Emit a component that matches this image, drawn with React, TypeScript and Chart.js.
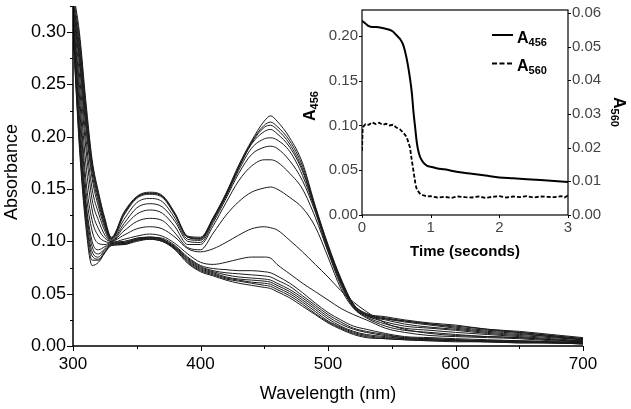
import React, { useEffect, useRef } from "react";
import { Chart, registerables } from "chart.js";
Chart.register(...registerables);

const FONT = "'Liberation Sans', Arial, sans-serif";

// ---------- main spectra ----------
const WAVELENGTHS = [300, 305, 310, 315, 320, 325, 330, 340, 350, 360, 370, 380, 390, 400, 410, 420, 430, 440, 450, 455, 460, 470, 480, 490, 500, 510, 520, 530, 545, 560, 580, 600, 625, 650, 675, 700];

const SPEC_00 = [0.340,0.300,0.235,0.178,0.147,0.122,0.104, 0.128,0.143,0.147,0.144,0.127,0.105,0.104, 0.123,0.146,0.173,0.196,0.215,0.220, 0.215,0.199,0.175,0.134,0.097,0.065,0.040,0.031, 0.028,0.025,0.022,0.020,0.016,0.014,0.011,0.008];
const SPEC_01 = [0.335,0.295,0.230,0.175,0.145,0.120,0.103, 0.127,0.142,0.146,0.143,0.126,0.104,0.103, 0.122,0.145,0.171,0.195,0.211,0.214, 0.210,0.196,0.172,0.133,0.096,0.064,0.040,0.031, 0.027,0.024,0.021,0.019,0.016,0.013,0.010,0.007];
const SPEC_02 = [0.330,0.290,0.225,0.172,0.143,0.119,0.103, 0.126,0.142,0.146,0.143,0.126,0.104,0.103, 0.122,0.145,0.171,0.194,0.209,0.211, 0.207,0.193,0.169,0.132,0.095,0.063,0.039,0.030, 0.026,0.024,0.021,0.018,0.015,0.013,0.010,0.007];
const SPEC_03 = [0.330,0.285,0.220,0.170,0.140,0.117,0.102, 0.125,0.141,0.145,0.142,0.125,0.104,0.102, 0.121,0.144,0.170,0.193,0.205,0.207, 0.203,0.190,0.167,0.131,0.094,0.062,0.039,0.030, 0.026,0.023,0.020,0.017,0.014,0.012,0.009,0.006];
const SPEC_04 = [0.325,0.280,0.215,0.165,0.137,0.115,0.102, 0.121,0.137,0.141,0.138,0.122,0.102,0.101, 0.120,0.143,0.168,0.189,0.198,0.199, 0.197,0.186,0.163,0.130,0.093,0.061,0.038,0.029, 0.025,0.021,0.018,0.016,0.013,0.011,0.009,0.006];
const SPEC_05 = [0.325,0.275,0.210,0.160,0.133,0.113,0.101, 0.117,0.132,0.136,0.133,0.119,0.100,0.099, 0.118,0.141,0.165,0.183,0.190,0.191, 0.189,0.177,0.158,0.128,0.091,0.060,0.037,0.029, 0.023,0.019,0.017,0.015,0.012,0.010,0.008,0.006];
const SPEC_06 = [0.320,0.270,0.200,0.150,0.127,0.110,0.100, 0.114,0.126,0.130,0.127,0.114,0.097,0.097, 0.115,0.137,0.158,0.172,0.178,0.178, 0.176,0.165,0.150,0.123,0.090,0.058,0.037,0.028, 0.021,0.017,0.015,0.013,0.011,0.009,0.007,0.005];
const SPEC_07 = [0.320,0.260,0.190,0.140,0.120,0.106,0.100, 0.110,0.119,0.122,0.120,0.108,0.094,0.092, 0.108,0.125,0.138,0.147,0.151,0.152, 0.150,0.142,0.132,0.114,0.085,0.055,0.036,0.027, 0.019,0.015,0.013,0.011,0.009,0.008,0.006,0.005];
const SPEC_08 = [0.315,0.250,0.175,0.130,0.112,0.103,0.100, 0.106,0.112,0.114,0.112,0.104,0.093,0.090, 0.093,0.099,0.106,0.112,0.114,0.113, 0.111,0.101,0.090,0.078,0.066,0.053,0.042,0.033, 0.022,0.016,0.012,0.010,0.009,0.008,0.006,0.004];
const SPEC_09 = [0.315,0.240,0.160,0.120,0.105,0.100,0.099, 0.102,0.105,0.107,0.105,0.098,0.088,0.080, 0.078,0.080,0.083,0.085,0.085,0.084, 0.078,0.069,0.060,0.052,0.044,0.036,0.030,0.025, 0.017,0.013,0.010,0.009,0.008,0.007,0.005,0.004];
const SPEC_10 = [0.310,0.230,0.150,0.110,0.098,0.097,0.099, 0.100,0.103,0.104,0.103,0.096,0.085,0.077, 0.074,0.073,0.072,0.072,0.071,0.070, 0.067,0.060,0.051,0.041,0.032,0.025,0.019,0.016, 0.012,0.009,0.008,0.007,0.006,0.005,0.004,0.003];
const SPEC_11 = [0.310,0.220,0.140,0.100,0.092,0.095,0.098, 0.099,0.103,0.104,0.102,0.095,0.084,0.076, 0.072,0.070,0.069,0.068,0.067,0.066, 0.063,0.057,0.048,0.039,0.030,0.023,0.017,0.014, 0.011,0.008,0.007,0.006,0.005,0.005,0.004,0.003];
const SPEC_12 = [0.310,0.210,0.135,0.095,0.088,0.093,0.098, 0.099,0.102,0.104,0.102,0.094,0.083,0.075, 0.071,0.068,0.066,0.065,0.064,0.063, 0.060,0.054,0.046,0.037,0.028,0.021,0.016,0.013, 0.010,0.008,0.007,0.006,0.005,0.004,0.004,0.003];
const SPEC_13 = [0.305,0.205,0.130,0.090,0.085,0.092,0.097, 0.098,0.102,0.103,0.101,0.094,0.082,0.074, 0.070,0.066,0.064,0.063,0.062,0.061, 0.058,0.052,0.044,0.035,0.026,0.019,0.014,0.011, 0.009,0.007,0.006,0.005,0.005,0.004,0.003,0.003];
const SPEC_14 = [0.305,0.200,0.125,0.086,0.083,0.090,0.097, 0.098,0.101,0.103,0.101,0.093,0.081,0.073, 0.069,0.065,0.063,0.061,0.060,0.059, 0.056,0.050,0.042,0.033,0.024,0.018,0.013,0.010, 0.008,0.007,0.006,0.005,0.004,0.004,0.003,0.002];
const SPEC_15 = [0.300,0.195,0.120,0.082,0.082,0.090,0.096, 0.097,0.101,0.102,0.100,0.093,0.080,0.072, 0.068,0.064,0.062,0.060,0.058,0.057, 0.054,0.048,0.040,0.031,0.023,0.017,0.012,0.009, 0.007,0.006,0.005,0.005,0.004,0.003,0.003,0.002];
const SPEC_16 = [0.300,0.190,0.115,0.077,0.080,0.089,0.096, 0.097,0.100,0.102,0.100,0.092,0.079,0.071, 0.067,0.063,0.060,0.058,0.056,0.055, 0.052,0.046,0.038,0.030,0.022,0.016,0.011,0.008, 0.007,0.006,0.005,0.004,0.004,0.003,0.003,0.002];

const SPECTRA = [SPEC_00, SPEC_01, SPEC_02, SPEC_03, SPEC_04, SPEC_05, SPEC_06, SPEC_07, SPEC_08, SPEC_09, SPEC_10, SPEC_11, SPEC_12, SPEC_13, SPEC_14, SPEC_15, SPEC_16];

const X_TICKS_MAJOR = 100;
const X_TICKS_MINOR = 50;
const Y_TICKS_MAJOR = 0.05;
const Y_TICKS_MINOR = 0.025;

// ---------- inset kinetics ----------
const TIME_456 = [0, 0.05, 0.1, 0.15, 0.2, 0.3, 0.4, 0.45, 0.5, 0.55, 0.6, 0.65, 0.7, 0.725, 0.75, 0.775, 0.8, 0.825, 0.85, 0.9, 0.95, 1.0, 1.1, 1.2, 1.4, 1.6, 1.8, 2.0, 2.2, 2.4, 2.6, 2.8, 3.0];
const A456 = [0.217, 0.214, 0.211, 0.210, 0.210, 0.209, 0.207, 0.205, 0.201, 0.197, 0.190, 0.175, 0.152, 0.137, 0.115, 0.097, 0.080, 0.070, 0.064, 0.058, 0.055, 0.054, 0.052, 0.051, 0.048, 0.046, 0.044, 0.042, 0.041, 0.040, 0.039, 0.038, 0.037];

const TIME_560 = [0, 0.01, 0.05, 0.1, 0.15, 0.2, 0.25, 0.3, 0.35, 0.4, 0.45, 0.5, 0.55, 0.6, 0.65, 0.7, 0.72, 0.75, 0.78, 0.8, 0.85, 0.9, 0.95, 1.0, 1.1, 1.2, 1.3, 1.4, 1.5, 1.6, 1.7, 1.8, 1.9, 2.0, 2.1, 2.2, 2.3, 2.4, 2.5, 2.6, 2.7, 2.8, 2.9, 2.95, 3.0];
const A560 = [0.019, 0.026, 0.027, 0.0268, 0.0275, 0.027, 0.0274, 0.0268, 0.0271, 0.0266, 0.0268, 0.026, 0.0255, 0.0245, 0.0232, 0.020, 0.017, 0.013, 0.009, 0.0075, 0.0062, 0.0058, 0.0055, 0.0056, 0.0052, 0.0054, 0.0051, 0.0055, 0.0053, 0.0052, 0.0055, 0.0051, 0.0054, 0.0056, 0.0052, 0.0055, 0.0053, 0.0056, 0.0052, 0.0055, 0.0054, 0.0053, 0.0056, 0.0052, 0.0058];

function drawSub(ctx: CanvasRenderingContext2D, x: number, y: number, main: string, sub: string, size: number, subSize: number, align: "left" | "center") {
  ctx.font = `bold ${size}px ${FONT}`;
  const w1 = ctx.measureText(main).width;
  ctx.font = `bold ${subSize}px ${FONT}`;
  const w2 = ctx.measureText(sub).width;
  const x0 = align === "center" ? x - (w1 + w2) / 2 : x;
  ctx.textAlign = "left";
  ctx.textBaseline = "alphabetic";
  ctx.font = `bold ${size}px ${FONT}`;
  ctx.fillText(main, x0, y);
  ctx.font = `bold ${subSize}px ${FONT}`;
  ctx.fillText(sub, x0 + w1, y + 3);
}

const mainAxesPlugin = {
  id: "mainAxes",
  afterDraw(chart: any) {
    const { ctx, chartArea, scales } = chart;
    const { left, right, top, bottom } = chartArea;
    const xs = scales.x, ys = scales.y;
    ctx.save();
    ctx.strokeStyle = "#000";
    ctx.lineWidth = 1.5;
    ctx.beginPath();
    ctx.moveTo(left, top);
    ctx.lineTo(left, bottom);
    ctx.lineTo(right, bottom);
    ctx.stroke();
    ctx.lineWidth = 1;
    for (let v = xs.min; v <= xs.max + 1e-9; v += X_TICKS_MINOR) {
      const px = Math.round(xs.getPixelForValue(v)) + 0.5;
      const major = Math.abs(v / X_TICKS_MAJOR - Math.round(v / X_TICKS_MAJOR)) < 1e-6;
      ctx.beginPath();
      ctx.moveTo(px, bottom);
      ctx.lineTo(px, bottom + (major ? 5 : 3));
      ctx.stroke();
    }
    for (let k = 0; k * Y_TICKS_MINOR <= ys.max + 1e-9; k++) {
      const v = k * Y_TICKS_MINOR;
      const py = Math.round(ys.getPixelForValue(v)) + 0.5;
      const major = k % 2 === 0;
      ctx.beginPath();
      ctx.moveTo(left - (major ? 6 : 3), py);
      ctx.lineTo(left, py);
      ctx.stroke();
    }
    ctx.fillStyle = "#000";
    ctx.font = `18px ${FONT}`;
    ctx.textAlign = "center";
    ctx.textBaseline = "middle";
    ctx.fillText("Wavelength (nm)", (left + right) / 2, 394);
    ctx.save();
    ctx.translate(12, 172);
    ctx.rotate(-Math.PI / 2);
    ctx.fillText("Absorbance", 0, 0);
    ctx.restore();
    ctx.restore();
  },
};

const insetPlugin = {
  id: "insetDeco",
  afterDraw(chart: any) {
    const { ctx, chartArea, scales } = chart;
    const { left, right, top, bottom } = chartArea;
    ctx.save();
    ctx.strokeStyle = "#000";
    ctx.lineWidth = 1.2;
    ctx.strokeRect(left, top, right - left, bottom - top);
    ctx.lineWidth = 1;
    const xs = scales.x, yl = scales.y, yr = scales.y1;
    xs.ticks.forEach((t: any) => {
      const px = Math.round(xs.getPixelForValue(t.value)) + 0.5;
      ctx.beginPath(); ctx.moveTo(px, bottom); ctx.lineTo(px, bottom + 3); ctx.stroke();
    });
    yl.ticks.forEach((t: any) => {
      const py = Math.round(yl.getPixelForValue(t.value)) + 0.5;
      ctx.beginPath(); ctx.moveTo(left - 3, py); ctx.lineTo(left, py); ctx.stroke();
    });
    yr.ticks.forEach((t: any) => {
      const py = Math.round(yr.getPixelForValue(t.value)) + 0.5;
      ctx.beginPath(); ctx.moveTo(right, py); ctx.lineTo(right + 3, py); ctx.stroke();
    });
    // legend
    ctx.lineWidth = 2;
    ctx.beginPath(); ctx.moveTo(192, 35); ctx.lineTo(213, 35); ctx.stroke();
    ctx.lineWidth = 1.8;
    ctx.setLineDash([5, 2.5]);
    ctx.beginPath(); ctx.moveTo(192, 63.5); ctx.lineTo(213, 63.5); ctx.stroke();
    ctx.setLineDash([]);
    ctx.fillStyle = "#000";
    drawSub(ctx, 217, 43, "A", "456", 16, 11, "left");
    drawSub(ctx, 217, 71, "A", "560", 16, 11, "left");
    // axis titles
    ctx.font = `bold 15px ${FONT}`;
    ctx.textAlign = "center";
    ctx.textBaseline = "middle";
    ctx.fillText("Time (seconds)", (left + right) / 2, 252);
    ctx.save();
    ctx.translate(9, 106);
    ctx.rotate(-Math.PI / 2);
    drawSub(ctx, 0, 6, "A", "456", 16, 11, "center");
    ctx.restore();
    ctx.save();
    ctx.translate(320, 112);
    ctx.rotate(Math.PI / 2);
    drawSub(ctx, 0, 6, "A", "560", 16, 11, "center");
    ctx.restore();
    ctx.restore();
  },
};

export default function App() {
  const mainRef = useRef<HTMLCanvasElement>(null);
  const insetRef = useRef<HTMLCanvasElement>(null);

  useEffect(() => {
    const main = new Chart(mainRef.current as HTMLCanvasElement, {
      type: "line",
      data: {
        datasets: SPECTRA.map((s) => ({
          data: WAVELENGTHS.map((w, i) => ({ x: w, y: s[i] })),
          borderColor: "#1a1a1a",
          borderWidth: 1,
          pointRadius: 0,
          fill: false,
          cubicInterpolationMode: "monotone" as const,
        })),
      },
      options: {
        responsive: false,
        animation: false,
        devicePixelRatio: 1,
        layout: { padding: { top: 6, right: 48, left: 0, bottom: 0 } },
        plugins: { legend: { display: false }, tooltip: { enabled: false } },
        scales: {
          x: {
            type: "linear",
            min: 300,
            max: 700,
            afterFit: (s: any) => { s.height = 63; s.paddingLeft = 0; s.paddingRight = 0; },
            grid: { display: false, drawTicks: false },
            border: { display: false },
            ticks: { stepSize: X_TICKS_MAJOR, padding: 8, color: "#000", font: { family: FONT, size: 17 }, maxRotation: 0, autoSkip: false },
          },
          y: {
            type: "linear",
            min: 0,
            max: 0.325,
            afterFit: (s: any) => { s.width = 73; s.paddingTop = 0; s.paddingBottom = 0; },
            grid: { display: false, drawTicks: false },
            border: { display: false },
            ticks: { stepSize: Y_TICKS_MAJOR, includeBounds: false, padding: 7, color: "#000", font: { family: FONT, size: 18 }, callback: (v: any) => Number(v).toFixed(2) },
          },
        },
      },
      plugins: [mainAxesPlugin],
    } as any);

    const inset = new Chart(insetRef.current as HTMLCanvasElement, {
      type: "line",
      data: {
        datasets: [
          {
            label: "A456",
            data: TIME_456.map((t, i) => ({ x: t, y: A456[i] })),
            borderColor: "#000",
            borderWidth: 2,
            pointRadius: 0,
            fill: false,
            cubicInterpolationMode: "monotone" as const,
            yAxisID: "y",
          },
          {
            label: "A560",
            data: TIME_560.map((t, i) => ({ x: t, y: A560[i] })),
            borderColor: "#000",
            borderWidth: 1.8,
            borderDash: [4, 2],
            pointRadius: 0,
            fill: false,
            yAxisID: "y1",
          },
        ],
      },
      options: {
        responsive: false,
        animation: false,
        devicePixelRatio: 1,
        layout: { padding: { top: 10, right: 0, left: 0, bottom: 0 } },
        plugins: { legend: { display: false }, tooltip: { enabled: false } },
        scales: {
          x: {
            type: "linear",
            min: 0,
            max: 3,
            afterFit: (s: any) => { s.height = 55; s.paddingLeft = 0; s.paddingRight = 0; },
            grid: { display: false, drawTicks: false },
            border: { display: false },
            ticks: { stepSize: 1, padding: 4, color: "#444", font: { family: FONT, size: 15 }, maxRotation: 0, autoSkip: false },
          },
          y: {
            type: "linear",
            position: "left",
            min: 0,
            max: 0.229,
            afterFit: (s: any) => { s.width = 62; s.paddingTop = 0; s.paddingBottom = 0; },
            grid: { display: false, drawTicks: false },
            border: { display: false },
            ticks: { stepSize: 0.05, includeBounds: false, padding: 4, color: "#444", font: { family: FONT, size: 15 }, callback: (v: any) => Number(v).toFixed(2) },
          },
          y1: {
            type: "linear",
            position: "right",
            min: 0,
            max: 0.0609,
            afterFit: (s: any) => { s.width = 63; s.paddingTop = 0; s.paddingBottom = 0; },
            grid: { display: false, drawTicks: false },
            border: { display: false },
            ticks: { stepSize: 0.01, includeBounds: false, padding: 4, color: "#444", font: { family: FONT, size: 15 }, callback: (v: any) => Number(v).toFixed(2) },
          },
        },
      },
      plugins: [insetPlugin],
    } as any);

    return () => {
      main.destroy();
      inset.destroy();
    };
  }, []);

  return (
    <div style={{ position: "fixed", left: 0, top: 0, width: 631, height: 409, background: "#fff", overflow: "hidden" }}>
      <canvas ref={mainRef} width={631} height={409} style={{ position: "absolute", left: 0, top: 0 }} />
      <canvas ref={insetRef} width={331} height={270} style={{ position: "absolute", left: 300, top: 0 }} />
    </div>
  );
}
